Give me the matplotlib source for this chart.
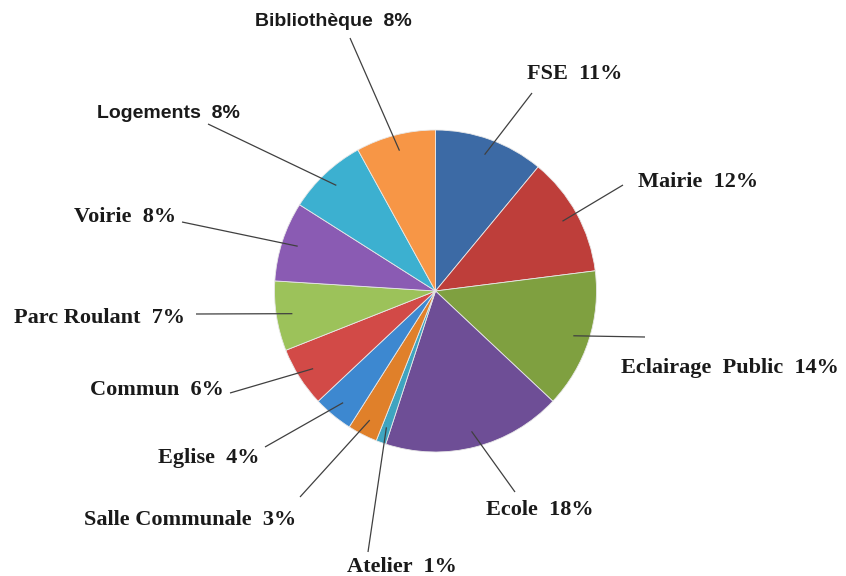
import numpy as np
import matplotlib.pyplot as plt

labels = ['FSE', 'Mairie', 'Eclairage  Public', 'Ecole', 'Atelier', 'Salle Communale',
          'Eglise', 'Commun', 'Parc Roulant', 'Voirie', 'Logements', 'Bibliothèque']
values = [11, 12, 14, 18, 1, 3, 4, 6, 7, 8, 8, 8]
colors = ['#3C6AA5', '#BE3E3A', '#7FA040', '#6E4E96', '#3FA4C0', '#E0802A',
          '#3D88D0', '#D24A47', '#9CC25A', '#8A5BB3', '#3CB0D0', '#F79646']

# label text anchor (pixels) and where the leader line meets the text (pixels)
text_px = [(575, 74), (698, 182), (730, 368), (540, 510), (402, 567), (190, 520),
           (209, 458), (157, 390), (100, 318), (125, 217), (168, 113), (333, 22)]
line_px = [(532, 93), (623, 185), (645, 337), (515, 492), (368, 552), (300, 497),
           (265, 447), (230, 393), (196, 314), (182, 222), (208, 124), (350, 38)]
sans_labels = {'Logements', 'Bibliothèque'}

W, H = 846, 576
cx, cy, R = 435.5, 291, 161

def to_data(p):
    return ((p[0] - cx) / R, (cy - p[1]) / R)

fig = plt.figure(figsize=(W / 100, H / 100), dpi=100)
ax = fig.add_axes([0, 0, 1, 1])

wedges, _ = ax.pie(values, colors=colors, startangle=90, counterclock=False, radius=1,
                   wedgeprops=dict(edgecolor='#e8e8e8', linewidth=0.6))
ax.set_aspect('auto')
ax.set_xlim(-cx / R, (W - cx) / R)
ax.set_ylim(-(H - cy) / R, cy / R)
ax.axis('off')

for w, lab, v, tp, lp in zip(wedges, labels, values, text_px, line_px):
    mid = np.deg2rad((w.theta1 + w.theta2) / 2)
    inner = (0.9 * np.cos(mid), 0.9 * np.sin(mid))
    ax.plot([inner[0], to_data(lp)[0]], [inner[1], to_data(lp)[1]],
            color='#404040', lw=0.9, solid_capstyle='butt')
    if lab in sans_labels:
        fam, fs = ['Liberation Sans Narrow', 'Liberation Sans', 'DejaVu Sans'], 14
    else:
        fam, fs = ['Liberation Serif', 'DejaVu Serif'], 16
    tx, ty = to_data(tp)
    ax.text(tx, ty, f'{lab}  {v}%', ha='center', va='center', fontsize=fs,
            fontweight='bold', family=fam, color='#1a1a1a')

fig.savefig('out.png', dpi=100)
